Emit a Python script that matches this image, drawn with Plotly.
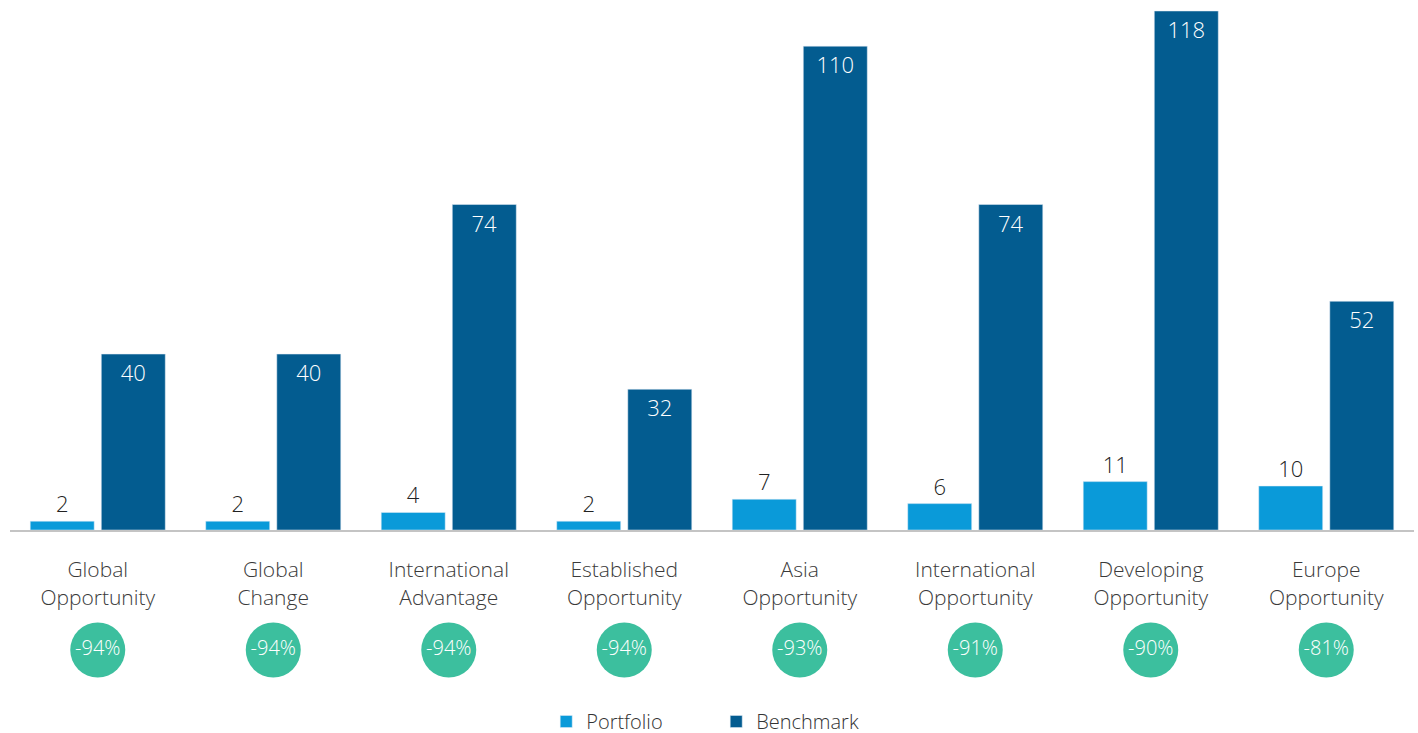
import plotly.graph_objects as go

categories = ["Global<br>Opportunity", "Global<br>Change", "International<br>Advantage",
              "Established<br>Opportunity", "Asia<br>Opportunity", "International<br>Opportunity",
              "Developing<br>Opportunity", "Europe<br>Opportunity"]
portfolio = [2, 2, 4, 2, 7, 6, 11, 10]
benchmark = [40, 40, 74, 32, 110, 74, 118, 52]
differences = ["-94%", "-94%", "-94%", "-94%", "-93%", "-91%", "-90%", "-81%"]

PORT_C = "#0a9ad9"
BENCH_C = "#035c90"
CIRCLE_C = "#3cbf9e"
FONT = "Open Sans"

H = 741.0        # figure is slightly taller than the window; the bottom is cut off
BASE = 530.0     # bar axis line (px from top)
CIRC = 650.0     # circle centre (px from top)

fig = go.Figure()
fig.add_trace(go.Bar(
    x=categories, y=portfolio, name="Portfolio", marker_color=PORT_C,
    text=[str(v) for v in portfolio], textposition="outside",
    textfont=dict(size=22, color="#222222", family=FONT, weight=300), cliponaxis=False,
))
fig.add_trace(go.Bar(
    x=categories, y=benchmark, name="Benchmark", marker_color=BENCH_C,
    text=[str(v) for v in benchmark], textposition="inside", insidetextanchor="end",
    textfont=dict(size=22, color="white", family=FONT, weight=300), cliponaxis=False,
))
# percentage-difference circles on a lower helper axis
fig.add_trace(go.Scatter(
    x=categories, y=[0.5] * len(categories), yaxis="y2", mode="markers+text",
    marker=dict(size=55, color=CIRCLE_C, line=dict(width=0)),
    text=differences, textposition="middle center",
    textfont=dict(size=20, color="white", family=FONT, weight=300),
    showlegend=False, hoverinfo="skip",
))

fig.update_layout(
    width=1418, height=H,
    margin=dict(l=10, r=4, t=0, b=0),
    paper_bgcolor="white", plot_bgcolor="white",
    barmode="group", bargap=0.19, bargroupgap=0.1,
    font=dict(family=FONT, color="#333333"),
    showlegend=True,
    legend=dict(orientation="h", x=0.503, xanchor="center", y=0, yanchor="bottom",
                font=dict(size=20, color="#333333", family=FONT, weight=300),
                traceorder="normal", entrywidth=125),
    xaxis=dict(range=[-0.5, 7.5], showline=True, linecolor="#c4c4c4", linewidth=2, ticks="",
               anchor="y",
               tickfont=dict(size=21, color="#3a3a3a", family=FONT, weight=300),
               ticklabelstandoff=20, showgrid=False, zeroline=False, fixedrange=True),
    yaxis=dict(domain=[(H - BASE) / H, 1], range=[0, 120.5], visible=False, showgrid=False,
               zeroline=False, fixedrange=True),
    yaxis2=dict(domain=[0, 2 * (H - CIRC) / H], range=[0, 1], visible=False, showgrid=False,
                zeroline=False, fixedrange=True),
)

fig.write_html("out.html", config={"displayModeBar": False},
               post_script="document.body.style.margin='0';"
                           "document.documentElement.style.overflow='hidden';"
                           "document.body.style.overflow='hidden';")
